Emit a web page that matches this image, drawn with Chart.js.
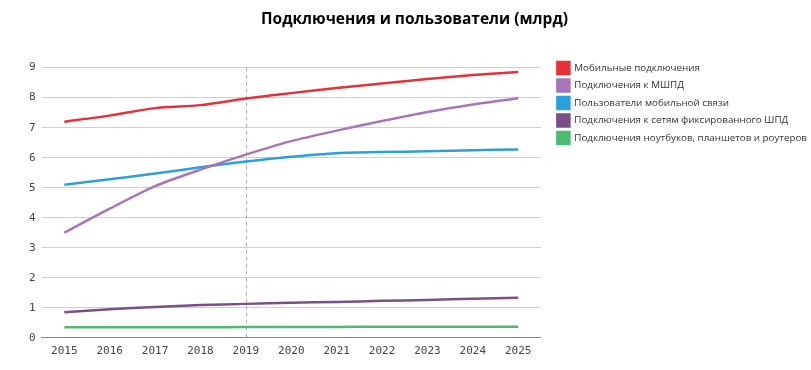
<!DOCTYPE html>
<html><head><meta charset="utf-8">
<script src="https://cdn.jsdelivr.net/npm/chart.js@4/dist/chart.umd.min.js"></script>
<style>html,body{margin:0;padding:0;background:#fff}#w{width:811px;height:370px}</style>
</head><body><div id="w"><canvas id="c"></canvas></div>
<script>
const years = ["2015","2016","2017","2018","2019","2020","2021","2022","2023","2024","2025"];
const mobileConnections = [7.2, 7.4, 7.65, 7.75, 7.97, 8.15, 8.32, 8.47, 8.62, 8.75, 8.85];
const mbbConnections = [3.5, 4.3, 5.05, 5.6, 6.1, 6.55, 6.9, 7.22, 7.52, 7.77, 7.98];
const mobileUsers = [5.1, 5.28, 5.47, 5.68, 5.87, 6.03, 6.15, 6.19, 6.21, 6.25, 6.27];
const fixedBroadband = [0.85, 0.95, 1.03, 1.09, 1.13, 1.17, 1.19, 1.23, 1.26, 1.30, 1.33];
const laptopsTablets = [0.35, 0.35, 0.35, 0.35, 0.36, 0.36, 0.36, 0.37, 0.37, 0.37, 0.37];
const yTicks = [0,1,2,3,4,5,6,7,8,9];
const markerYear = "2019";

const dashLine = {
  id: 'dashLine',
  beforeDatasetsDraw(chart) {
    const x = chart.scales.x.getPixelForValue(years.indexOf(markerYear));
    const ctx = chart.ctx, a = chart.chartArea;
    ctx.save();
    ctx.strokeStyle = '#aaaaaa'; ctx.lineWidth = 1; ctx.setLineDash([4,3]);
    ctx.beginPath(); ctx.moveTo(Math.round(x)+0.5, a.top); ctx.lineTo(Math.round(x)+0.5, a.bottom); ctx.stroke();
    ctx.restore();
  }
};
const legendShift = {
  id: 'legendShift',
  afterLayout(chart) { const l = chart.legend; l.top -= 11; l.bottom -= 11; l.left += 11; l.right += 11; }
};

const mk = (label, data, color) => ({label, data, borderColor: color, backgroundColor: color, borderWidth: 2.5, pointRadius: 0, tension: 0.25, fill: false});

new Chart(document.getElementById('c'), {
  type: 'line',
  data: { labels: years, datasets: [
    mk('Мобильные подключения', mobileConnections, '#e8303a'),
    mk('Подключения к МШПД', mbbConnections, '#a875b8'),
    mk('Пользователи мобильной связи', mobileUsers, '#2aa0dc'),
    mk('Подключения к сетям фиксированного ШПД', fixedBroadband, '#7b4f87'),
    mk('Подключения ноутбуков, планшетов и роутеров', laptopsTablets, '#4cbb72')
  ]},
  options: {
    responsive: true, maintainAspectRatio: false, animation: false,
    layout: { padding: { left: 23, right: 5, top: 4, bottom: 13 } },
    plugins: {
      title: { display: true, text: 'Подключения и пользователи (млрд)', color: '#000',
        font: { family: 'Open Sans', size: 15.5, weight: 'bold' }, padding: { top: 6, bottom: 39 } },
      legend: { position: 'right', align: 'start', maxWidth: 300, fullSize: false,
        labels: { boxWidth: 12, boxHeight: 12, padding: 5.5, color: '#333',
          font: { family: 'Open Sans', size: 9.8 } } },
      tooltip: { enabled: false }
    },
    scales: {
      x: { offset: true, grid: { display: false }, border: { display: true, color: '#888', width: 1 },
        ticks: { color: '#444', font: { family: 'DejaVu Sans Mono', size: 11 }, padding: -1, maxRotation: 0 } },
      y: { min: 0, max: 9, afterBuildTicks: s => { s.ticks = yTicks.map(v => ({value: v})); },
        grid: { color: '#cfcfcf', drawTicks: false }, border: { display: false },
        ticks: { color: '#444', font: { family: 'DejaVu Sans Mono', size: 11 }, padding: 6 } }
    }
  },
  plugins: [dashLine, legendShift]
});
</script></body></html>
